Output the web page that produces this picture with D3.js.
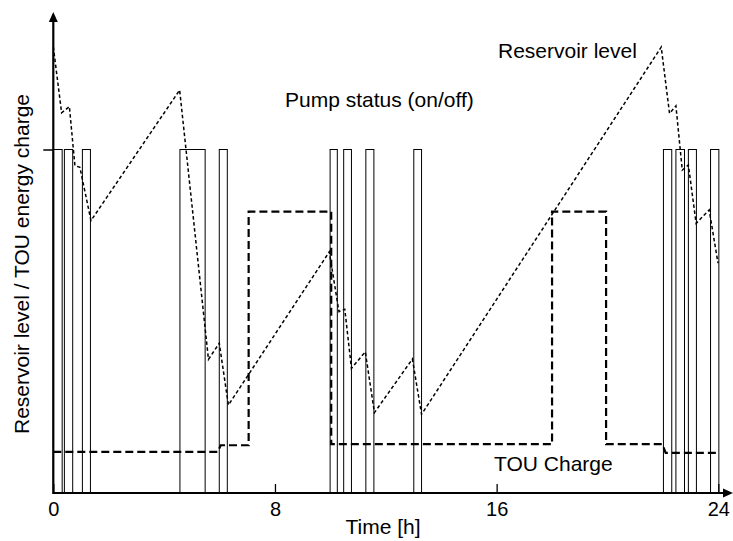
<!DOCTYPE html>
<html>
<head>
<meta charset="utf-8">
<script src="https://cdn.jsdelivr.net/npm/d3@7/dist/d3.min.js"></script>
<style>
  html, body { margin: 0; padding: 0; background: #fff; }
  svg { display: block; }
  text { font-family: "Liberation Sans", Arial, sans-serif; fill: #000; }
</style>
</head>
<body>
<svg id="chart" width="733" height="541"></svg>
<script>
// ---------------- data ----------------
const xTicks = [0, 8, 16, 24];
const yTicks = [1];

// pump on/off intervals (hours)
const pumpOn  = [0.00, 0.40, 1.05, 4.57, 5.99, 9.99, 10.48, 11.28, 13.01, 22.02, 22.47, 22.92, 23.72];
const pumpOff = [0.32, 0.70, 1.34, 5.48, 6.28, 10.25, 10.76, 11.57, 13.29, 22.32, 22.78, 23.21, 24.02];

// reservoir level
const resTime  = [0.00, 0.30, 0.58, 0.78, 0.96, 1.36, 4.56, 5.60, 5.99, 6.32, 9.96, 10.31, 10.52, 10.76, 11.26, 11.59, 12.96, 13.29, 21.94, 22.24, 22.47, 22.70, 22.92, 23.20, 23.67, 23.99];
const resLevel = [1.299, 1.107, 1.125, 0.953, 0.948, 0.793, 1.173, 0.389, 0.436, 0.256, 0.702, 0.528, 0.535, 0.363, 0.411, 0.234, 0.390, 0.229, 1.298, 1.105, 1.127, 0.940, 0.955, 0.785, 0.824, 0.669];

// TOU energy charge
const touTime   = [0.00, 5.94, 6.04, 7.05, 7.05, 10.03, 10.03, 18.00, 18.00, 19.95, 19.95, 21.98, 22.10, 23.94];
const touCharge = [0.120, 0.120, 0.139, 0.139, 0.819, 0.819, 0.142, 0.142, 0.819, 0.819, 0.142, 0.142, 0.117, 0.117];

// ---------------- chart ----------------
const svg = d3.select("#chart");
const x = d3.scaleLinear().domain([0, 24]).range([53.3, 718.3]);
const y = d3.scaleLinear().domain([0, 1]).range([493, 149.5]);

// pump bars
svg.append("g").selectAll("rect")
  .data(pumpOn.map((s, i) => [s, pumpOff[i]]))
  .join("rect")
  .attr("x", d => x(d[0]))
  .attr("y", y(1))
  .attr("width", d => x(d[1]) - x(d[0]))
  .attr("height", y(0) - y(1))
  .attr("fill", "none")
  .attr("stroke", "#000")
  .attr("stroke-width", 1);

// TOU line
svg.append("path")
  .datum(touTime.map((t, i) => [t, touCharge[i]]))
  .attr("fill", "none")
  .attr("stroke", "#000")
  .attr("stroke-width", 2.2)
  .attr("stroke-dasharray", "8,4")
  .attr("d", d3.line().x(d => x(d[0])).y(d => y(d[1])));

// reservoir line
svg.append("path")
  .datum(resTime.map((t, i) => [t, resLevel[i]]))
  .attr("fill", "none")
  .attr("stroke", "#000")
  .attr("stroke-width", 1.5)
  .attr("stroke-dasharray", "3.5,2.5")
  .attr("d", d3.line().x(d => x(d[0])).y(d => y(d[1])));

// axes
const xAxis = d3.axisBottom(x).tickValues(xTicks).tickSizeInner(-9).tickSizeOuter(0).tickPadding(9);
const gx = svg.append("g").attr("transform", `translate(0,${y(0)})`).call(xAxis);
gx.select(".domain").remove();
gx.selectAll(".tick line").attr("stroke", "#000").attr("stroke-width", 1.3);
gx.selectAll(".tick text").attr("font-size", 20).attr("font-family", "Liberation Sans, Arial, sans-serif");

const yAxis = d3.axisLeft(y).tickValues(yTicks).tickFormat("").tickSizeInner(10).tickSizeOuter(0);
const gy = svg.append("g").attr("transform", `translate(${x(0)},0)`).call(yAxis);
gy.select(".domain").remove();
gy.selectAll(".tick line").attr("stroke", "#000").attr("stroke-width", 1.5);

// axis lines with arrows
svg.append("line")
  .attr("x1", x(0)).attr("x2", 726).attr("y1", y(0)).attr("y2", y(0))
  .attr("stroke", "#000").attr("stroke-width", 2.2);
svg.append("path")
  .attr("d", `M733,${y(0)} L723,${y(0) - 4.5} L723,${y(0) + 4.5} Z`)
  .attr("fill", "#000");
svg.append("line")
  .attr("x1", x(0)).attr("x2", x(0)).attr("y1", y(0) + 1).attr("y2", 19)
  .attr("stroke", "#000").attr("stroke-width", 2.2);
svg.append("path")
  .attr("d", `M${x(0)},12 L${x(0) - 4.5},22 L${x(0) + 4.5},22 Z`)
  .attr("fill", "#000");

// labels
svg.append("text").attr("x", 383).attr("y", 534).attr("text-anchor", "middle")
  .attr("font-size", 21).text("Time [h]");
svg.append("text")
  .attr("transform", "translate(29,264) rotate(-90)")
  .attr("text-anchor", "middle").attr("font-size", 21)
  .text("Reservoir level / TOU energy charge");
svg.append("text").attr("x", 498).attr("y", 58).attr("font-size", 21).text("Reservoir level");
svg.append("text").attr("x", 285).attr("y", 107).attr("font-size", 21).text("Pump status (on/off)");
svg.append("text").attr("x", 494).attr("y", 471).attr("font-size", 21).text("TOU Charge");
</script>
</body>
</html>
